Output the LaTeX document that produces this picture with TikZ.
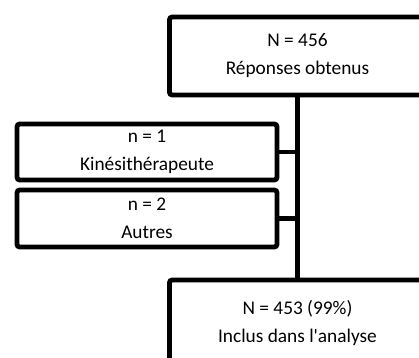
\documentclass[tikz,border=0pt]{standalone}
\usepackage{fontspec}
\setmainfont{Carlito}
\usepackage{tikz}
\usetikzlibrary{calc}

\begin{document}
\begin{tikzpicture}[x=0.75pt,y=-0.75pt,
    boite/.style={
      rectangle,
      draw,
      line width=3.6pt,
      rounded corners=2pt,
      inner sep=0pt,
      align=center,
      font=\fontsize{14.5}{21}\selectfont
    },
    lien/.style={
      line width=3.6pt
    }
  ]
  \clip (0,0) rectangle (419,358);
  \node[boite,minimum width=192pt,minimum height=58.5pt] (obtenus) at (297.5,56) {N = 456\\Réponses obtenus};
  \node[boite,minimum width=195pt,minimum height=42pt] (kine) at (147,152) {n = 1\\Kinésithérapeute};
  \node[boite,minimum width=195pt,minimum height=42.75pt] (autres) at (147,218.5) {n = 2\\Autres};
  \node[boite,minimum width=192pt,minimum height=64.5pt] (inclus) at (297.5,323) {N = 453 (99\%)\\Inclus dans l\textquotesingle analyse};
  \draw[lien] (obtenus.south) -- (inclus.north);
  \draw[lien] (kine.east) -- (kine.east -| obtenus.south);
  \draw[lien] (autres.east) -- (autres.east -| obtenus.south);
\end{tikzpicture}
\end{document}
